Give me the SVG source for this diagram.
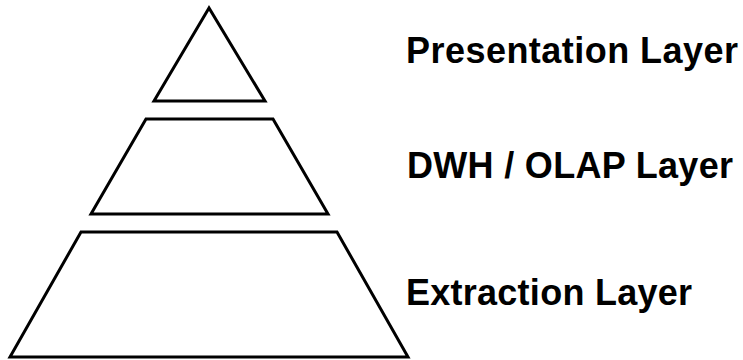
<svg xmlns="http://www.w3.org/2000/svg" width="743" height="360" viewBox="0 0 743 360">
<style>
.layer{fill:#fff;stroke:#000;stroke-width:3;stroke-linejoin:miter}
.lbl{font-family:"Liberation Sans",Arial,sans-serif;font-weight:bold;font-size:36px;fill:#000}
</style>
<rect width="743" height="360" fill="#fff"/>
<g id="presentation">
<polygon class="layer" points="209,8 154,101 265,101"/>
<text class="lbl" x="406" y="63" textLength="332" lengthAdjust="spacing">Presentation Layer</text>
</g>
<g id="dwh">
<polygon class="layer" points="146,119 273,119 328,214 91,214"/>
<text class="lbl" x="407" y="178" textLength="326" lengthAdjust="spacing">DWH / OLAP Layer</text>
</g>
<g id="extraction">
<polygon class="layer" points="81,232 337,232 408,357 10,357"/>
<text class="lbl" x="406" y="305" textLength="286" lengthAdjust="spacing">Extraction Layer</text>
</g>
<g id="connectors"></g>
</svg>
